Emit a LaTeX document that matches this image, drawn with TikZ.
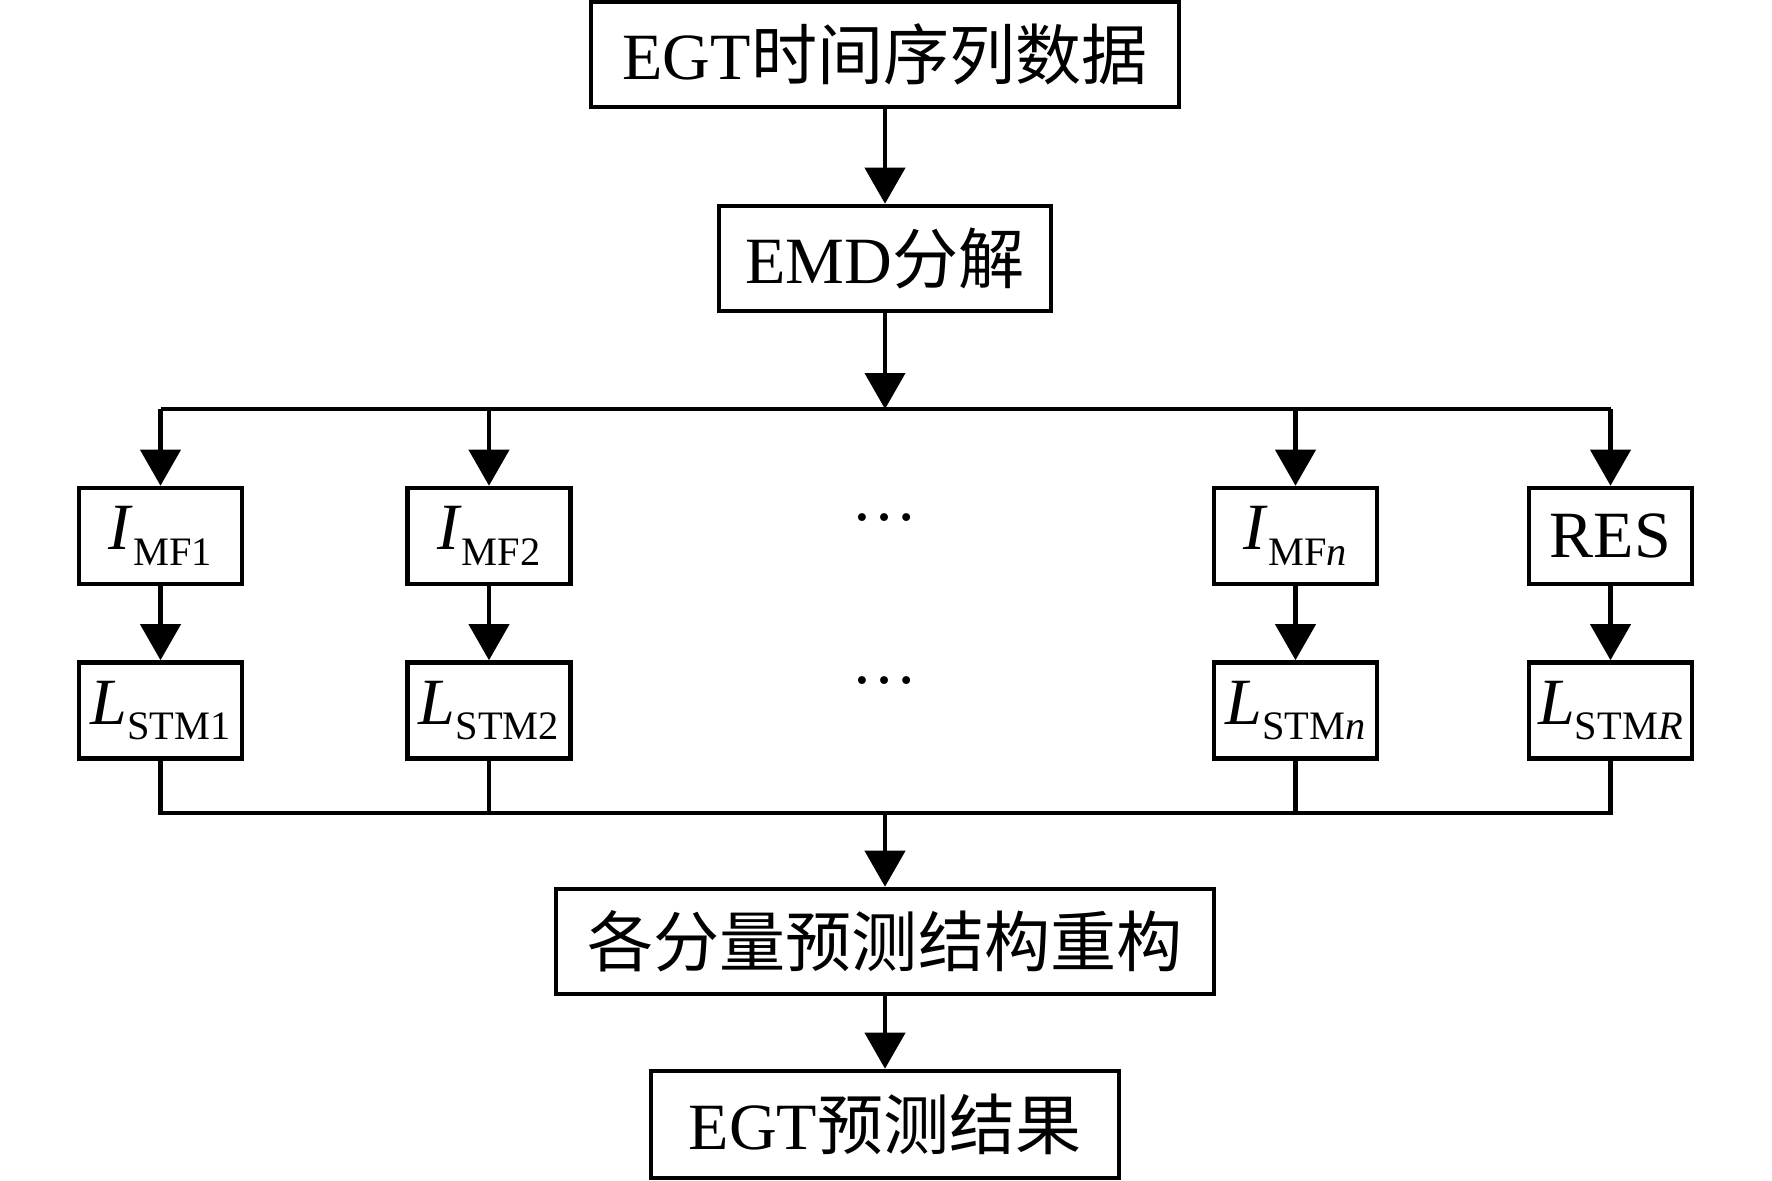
\documentclass[tikz,border=0pt]{standalone}
\usepackage{fontspec}
\setmainfont{Liberation Serif}
\newfontfamily\cjk{Noto Sans CJK SC}
\usepackage{tikz}
\usetikzlibrary{arrows.meta, positioning, calc}

\newcommand{\symsub}[2]{\textit{#1}\raisebox{-4.5pt}{\fontsize{11.5pt}{11.5pt}\selectfont #2}}

\begin{document}
\begin{tikzpicture}[
    font=\fontsize{18.8pt}{22pt}\selectfont,
    box/.style={draw, line width=1.3pt, inner sep=0pt, minimum height=1.05cm},
    smallbox/.style={box, minimum width=1.63cm, minimum height=0.96cm},
    arr/.style={line width=1.2pt, -{Triangle[width=0.4cm, length=0.36cm]}},
    wire/.style={line width=1.2pt}
]
\useasboundingbox (0,0) rectangle (17.72,-11.80);

% Main chain
\node[box, minimum width=5.88cm] (series) at (8.85,-0.545) {EGT{\cjk 时间序列数据}};
\node[box, minimum width=3.32cm] (emd) at (8.85,-2.585) {EMD{\cjk 分解}};
\coordinate (split) at (8.85,-4.09);

% Components
\node[smallbox] (imf1) at (1.605,-5.36) {\symsub{I}{MF1}};
\node[smallbox] (imf2) at (4.89,-5.36) {\symsub{I}{MF2}};
\node[smallbox] (imfn) at (12.955,-5.36) {\symsub{I}{MF\textit{n}}};
\node[smallbox] (res) at (16.105,-5.36) {RES};
\node[inner sep=0pt] (dotsa) at (8.85,-5.18) {…};

% Predictors
\node[smallbox] (lstm1) at (1.605,-7.105) {\symsub{L}{STM1}};
\node[smallbox] (lstm2) at (4.89,-7.105) {\symsub{L}{STM2}};
\node[smallbox] (lstmn) at (12.955,-7.105) {\symsub{L}{STM\textit{n}}};
\node[smallbox] (lstmr) at (16.105,-7.105) {\symsub{L}{STM\textit{R}}};
\node[inner sep=0pt] (dotsb) at (8.85,-6.81) {…};

\coordinate (merge) at (8.85,-8.13);
\node[box, minimum width=6.58cm] (recon) at (8.85,-9.415) {\cjk 各分量预测结构重构};
\node[box, minimum width=4.68cm, minimum height=1.07cm] (result) at (8.85,-11.245) {EGT{\cjk 预测结果}};

% Connectors
\draw[arr] (series) -- (emd);
\draw[arr] (emd) -- (split);
\draw[wire] (imf1 |- split) -- (res |- split);
\foreach \m/\l in {imf1/lstm1, imf2/lstm2, imfn/lstmn, res/lstmr} {
    \draw[arr] (\m |- split) -- (\m);
    \draw[arr] (\m) -- (\l);
}
\draw[wire] (lstm1.south) -- (lstm1 |- merge) -- (lstmr |- merge) -- (lstmr.south);
\draw[wire] (lstm2.south) -- (lstm2 |- merge);
\draw[wire] (lstmn.south) -- (lstmn |- merge);
\draw[arr] (merge) -- (recon);
\draw[arr] (recon) -- (result);
\end{tikzpicture}
\end{document}
